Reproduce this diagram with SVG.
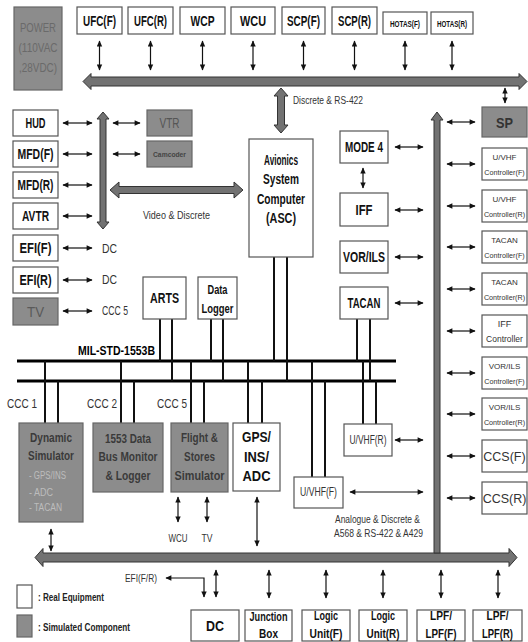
<svg xmlns="http://www.w3.org/2000/svg" width="528" height="642" viewBox="0 0 528 642">
<style>
text{font-family:"Liberation Sans",Arial,sans-serif}
.box{fill:#fff;stroke:#555;stroke-width:1.2}
.sim{fill:#8c8c8c;stroke:#666;stroke-width:1.2}
.b{font-weight:bold;fill:#111;text-anchor:middle}
.r{fill:#333;text-anchor:middle}
.l{fill:#333}
.c{stroke:#111;stroke-width:1.2;fill:none;marker-start:url(#ah);marker-end:url(#ah)}
.stub{stroke:#111;stroke-width:2}
.bus{stroke:#000;stroke-width:3.2}
.thick{fill:#727272;stroke:#333;stroke-width:1}
.st{fill:#3a3a3a;font-weight:bold;text-anchor:middle}
.rc1{fill:#333;text-anchor:middle;font-size:8px}
.rc2{fill:#333;text-anchor:middle;font-size:7.2px}
</style>
<defs>
<marker id="ah" viewBox="0 0 10 10" refX="9" refY="5" markerWidth="7" markerHeight="6" markerUnits="userSpaceOnUse" orient="auto-start-reverse"><path d="M0,0.5 L10,5 L0,9.5 z" fill="#111"/></marker>
</defs>

<g id="connectors">
<polygon class="thick" points="83,81.5 91,73.5 91,77 519,77 519,73.5 527,81.5 519,89.5 519,86 91,86 91,89.5"/>
<polygon class="thick" points="35,557.5 43,548.5 43,553 509,553 509,548.5 517,557.5 509,566.5 509,562 43,562 43,566.5"/>
<polygon class="thick" points="437,112 443,120 440,120 440,553 434,553 434,120 431,120"/>
<polygon class="thick" points="103,112 109,119 106,119 106,222 109,222 103,229 97,222 100,222 100,119 97,119"/>
<polygon class="thick" points="110,190 119,182 119,186.5 234,186.5 234,182 243,190 234,198 234,193.5 119,193.5 119,198"/>
<polygon class="thick" points="281,88 288,96 284.5,96 284.5,125 288,125 281,133 274,125 277.5,125 277.5,96 274,96"/>
<line class="bus" x1="17" y1="361" x2="396" y2="361"/>
<line class="bus" x1="17" y1="381" x2="396" y2="381"/>
<line class="stub" x1="160" y1="319" x2="160" y2="361"/>
<line class="stub" x1="172" y1="319" x2="172" y2="381"/>
<line class="stub" x1="211" y1="319" x2="211" y2="361"/>
<line class="stub" x1="223" y1="319" x2="223" y2="381"/>
<line class="stub" x1="274" y1="257" x2="274" y2="361"/>
<line class="stub" x1="287" y1="257" x2="287" y2="381"/>
<line class="stub" x1="357" y1="319" x2="357" y2="361"/>
<line class="stub" x1="370" y1="319" x2="370" y2="381"/>
<line class="stub" x1="45" y1="361" x2="45" y2="423"/>
<line class="stub" x1="58" y1="381" x2="58" y2="423"/>
<line class="stub" x1="121" y1="361" x2="121" y2="423"/>
<line class="stub" x1="134" y1="381" x2="134" y2="423"/>
<line class="stub" x1="191" y1="361" x2="191" y2="423"/>
<line class="stub" x1="204" y1="381" x2="204" y2="423"/>
<line class="stub" x1="248" y1="361" x2="248" y2="423"/>
<line class="stub" x1="262" y1="381" x2="262" y2="423"/>
<line class="stub" x1="312" y1="361" x2="312" y2="477"/>
<line class="stub" x1="325" y1="381" x2="325" y2="477"/>
<line class="stub" x1="363" y1="361" x2="363" y2="424"/>
<line class="stub" x1="376" y1="381" x2="376" y2="424"/>
<line class="c" x1="99.5" y1="41" x2="99.5" y2="70"/>
<line class="c" x1="150.5" y1="41" x2="150.5" y2="70"/>
<line class="c" x1="202.5" y1="41" x2="202.5" y2="70"/>
<line class="c" x1="253" y1="41" x2="253" y2="70"/>
<line class="c" x1="303.5" y1="41" x2="303.5" y2="70"/>
<line class="c" x1="354.5" y1="41" x2="354.5" y2="70"/>
<line class="c" x1="405" y1="41" x2="405" y2="70"/>
<line class="c" x1="452" y1="41" x2="452" y2="70"/>
<line class="c" x1="505" y1="88" x2="505" y2="103"/>
<line class="c" x1="63" y1="123" x2="92" y2="123"/>
<line class="c" x1="63" y1="154" x2="92" y2="154"/>
<line class="c" x1="63" y1="185" x2="92" y2="185"/>
<line class="c" x1="63" y1="216" x2="92" y2="216"/>
<line class="c" x1="63" y1="248" x2="92" y2="248"/>
<line class="c" x1="63" y1="280" x2="92" y2="280"/>
<line class="c" x1="63" y1="311" x2="92" y2="311"/>
<line class="c" x1="113" y1="123" x2="140" y2="123"/>
<line class="c" x1="113" y1="154" x2="140" y2="154"/>
<line class="c" x1="363" y1="168" x2="363" y2="188"/>
<line class="c" x1="395" y1="147" x2="423" y2="147"/>
<line class="c" x1="395" y1="210" x2="423" y2="210"/>
<line class="c" x1="395" y1="257" x2="423" y2="257"/>
<line class="c" x1="395" y1="303" x2="423" y2="303"/>
<line class="c" x1="395" y1="440" x2="423" y2="440"/>
<line class="c" x1="350" y1="492" x2="423" y2="492"/>
<line class="c" x1="447" y1="122" x2="475" y2="122"/>
<line class="c" x1="447" y1="164" x2="475" y2="164"/>
<line class="c" x1="447" y1="206" x2="475" y2="206"/>
<line class="c" x1="447" y1="247" x2="475" y2="247"/>
<line class="c" x1="447" y1="289" x2="475" y2="289"/>
<line class="c" x1="447" y1="331" x2="475" y2="331"/>
<line class="c" x1="447" y1="373" x2="475" y2="373"/>
<line class="c" x1="447" y1="414" x2="475" y2="414"/>
<line class="c" x1="447" y1="456" x2="475" y2="456"/>
<line class="c" x1="447" y1="498" x2="475" y2="498"/>
<line class="c" x1="178" y1="497" x2="178" y2="522"/>
<line class="c" x1="207" y1="497" x2="207" y2="522"/>
<line class="c" x1="257" y1="497" x2="257" y2="546"/>
<line class="c" x1="51" y1="529" x2="51" y2="551"/>
<path class="c" d="M166,578 H204 V597"/>
<line class="c" x1="216" y1="570" x2="216" y2="597"/>
<line class="c" x1="269" y1="570" x2="269" y2="598"/>
<line class="c" x1="326" y1="570" x2="326" y2="598"/>
<line class="c" x1="383" y1="570" x2="383" y2="598"/>
<line class="c" x1="441" y1="570" x2="441" y2="598"/>
<line class="c" x1="498" y1="570" x2="498" y2="598"/>
</g>

<g id="labels">
<text class="l" x="293" y="104" font-size="11" textLength="70" lengthAdjust="spacingAndGlyphs">Discrete &amp; RS-422</text>
<text class="l" x="143" y="219" font-size="11" textLength="67" lengthAdjust="spacingAndGlyphs">Video &amp; Discrete</text>
<text class="l" x="102" y="253" font-size="12" fill="#555" textLength="15" lengthAdjust="spacingAndGlyphs">DC</text>
<text class="l" x="102" y="284" font-size="12" fill="#555" textLength="15" lengthAdjust="spacingAndGlyphs">DC</text>
<text class="l" x="102" y="315" font-size="12" fill="#555" textLength="26" lengthAdjust="spacingAndGlyphs">CCC 5</text>
<text x="78" y="355" font-size="12" font-weight="bold" fill="#000" textLength="77" lengthAdjust="spacingAndGlyphs">MIL-STD-1553B</text>
<text class="l" x="7" y="408" font-size="13" fill="#222" textLength="30" lengthAdjust="spacingAndGlyphs">CCC 1</text>
<text class="l" x="87" y="408" font-size="13" fill="#222" textLength="30" lengthAdjust="spacingAndGlyphs">CCC 2</text>
<text class="l" x="157" y="408" font-size="13" fill="#222" textLength="30" lengthAdjust="spacingAndGlyphs">CCC 5</text>
<text class="r" x="178" y="542" font-size="11" textLength="19" lengthAdjust="spacingAndGlyphs">WCU</text>
<text class="r" x="207" y="542" font-size="11" textLength="11" lengthAdjust="spacingAndGlyphs">TV</text>
<text class="l" x="335" y="523" font-size="11" textLength="85" lengthAdjust="spacingAndGlyphs">Analogue &amp; Discrete &amp;</text>
<text class="l" x="334" y="537" font-size="11" textLength="89" lengthAdjust="spacingAndGlyphs">A568 &amp; RS-422 &amp; A429</text>
<text class="l" x="125" y="582" font-size="10" textLength="32" lengthAdjust="spacingAndGlyphs">EFI(F/R)</text>
</g>

<g id="power"><rect class="sim" x="14" y="7" width="48" height="83"/>
<text x="38" y="32" font-size="13" fill="#6a6a6a" text-anchor="middle" textLength="36" lengthAdjust="spacingAndGlyphs">POWER</text>
<text x="38" y="52" font-size="13" fill="#6a6a6a" text-anchor="middle" textLength="39" lengthAdjust="spacingAndGlyphs">(110VAC</text>
<text x="38" y="72" font-size="13" fill="#6a6a6a" text-anchor="middle" textLength="38" lengthAdjust="spacingAndGlyphs">,28VDC)</text></g>
<g id="ufcf"><rect class="box" x="77" y="7" width="45" height="27"/><text class="b" x="99.5" y="26" font-size="14" textLength="33" lengthAdjust="spacingAndGlyphs">UFC(F)</text></g>
<g id="ufcr"><rect class="box" x="128" y="7" width="45" height="27"/><text class="b" x="150.5" y="26" font-size="14" textLength="33" lengthAdjust="spacingAndGlyphs">UFC(R)</text></g>
<g id="wcp"><rect class="box" x="180" y="7" width="45" height="27"/><text class="b" x="202.5" y="26" font-size="14" textLength="24" lengthAdjust="spacingAndGlyphs">WCP</text></g>
<g id="wcu"><rect class="box" x="231" y="7" width="44" height="27"/><text class="b" x="253" y="26" font-size="14" textLength="26" lengthAdjust="spacingAndGlyphs">WCU</text></g>
<g id="scpf"><rect class="box" x="282" y="7" width="43" height="27"/><text class="b" x="303.5" y="26" font-size="14" textLength="33" lengthAdjust="spacingAndGlyphs">SCP(F)</text></g>
<g id="scpr"><rect class="box" x="332" y="7" width="45" height="27"/><text class="b" x="354.5" y="26" font-size="14" textLength="33" lengthAdjust="spacingAndGlyphs">SCP(R)</text></g>
<g id="hotasf"><rect class="box" x="383" y="12" width="44" height="22"/><text class="b" x="405" y="27" font-size="9" textLength="30" lengthAdjust="spacingAndGlyphs">HOTAS(F)</text></g>
<g id="hotasr"><rect class="box" x="431" y="12" width="42" height="22"/><text class="b" x="452" y="27" font-size="9" textLength="30" lengthAdjust="spacingAndGlyphs">HOTAS(R)</text></g>

<g id="hud"><rect class="box" x="13" y="110" width="45" height="26"/><text class="b" x="35.5" y="128" font-size="14" textLength="20" lengthAdjust="spacingAndGlyphs">HUD</text></g>
<g id="mfdf"><rect class="box" x="13" y="141" width="45" height="26"/><text class="b" x="35.5" y="159" font-size="14" textLength="36" lengthAdjust="spacingAndGlyphs">MFD(F)</text></g>
<g id="mfdr"><rect class="box" x="13" y="172" width="45" height="26"/><text class="b" x="35.5" y="190" font-size="14" textLength="36" lengthAdjust="spacingAndGlyphs">MFD(R)</text></g>
<g id="avtr"><rect class="box" x="13" y="203" width="45" height="26"/><text class="b" x="35.5" y="221" font-size="14" textLength="27" lengthAdjust="spacingAndGlyphs">AVTR</text></g>
<g id="efif"><rect class="box" x="13" y="235" width="45" height="26"/><text class="b" x="35.5" y="253" font-size="14" textLength="32" lengthAdjust="spacingAndGlyphs">EFI(F)</text></g>
<g id="efir"><rect class="box" x="13" y="267" width="45" height="26"/><text class="b" x="35.5" y="285" font-size="14" textLength="32" lengthAdjust="spacingAndGlyphs">EFI(R)</text></g>
<g id="tv"><rect class="sim" x="13" y="298" width="45" height="27"/><text x="35.5" y="317" font-size="14" fill="#5a5a5a" text-anchor="middle" textLength="17" lengthAdjust="spacingAndGlyphs">TV</text></g>
<g id="vtr"><rect class="sim" x="147" y="110" width="45" height="26"/><text x="169.5" y="128" font-size="14" fill="#555" text-anchor="middle" textLength="20" lengthAdjust="spacingAndGlyphs">VTR</text></g>
<g id="camcoder"><rect class="sim" x="147" y="141" width="45" height="26"/><text x="169.5" y="157" font-size="8" font-weight="bold" fill="#444" text-anchor="middle" textLength="33" lengthAdjust="spacingAndGlyphs">Camcoder</text></g>

<g id="asc"><rect class="box" x="249" y="139" width="64" height="118"/>
<text class="b" x="281" y="165" font-size="14" textLength="34" lengthAdjust="spacingAndGlyphs">Avionics</text>
<text class="b" x="281" y="184" font-size="14" textLength="36" lengthAdjust="spacingAndGlyphs">System</text>
<text class="b" x="281" y="204" font-size="14" textLength="48" lengthAdjust="spacingAndGlyphs">Computer</text>
<text class="b" x="281" y="223" font-size="14" textLength="30" lengthAdjust="spacingAndGlyphs">(ASC)</text></g>
<g id="mode4"><rect class="box" x="340" y="131" width="48" height="32"/><text class="b" x="364" y="152" font-size="14" textLength="38" lengthAdjust="spacingAndGlyphs">MODE 4</text></g>
<g id="iff"><rect class="box" x="340" y="193" width="48" height="33"/><text class="b" x="364" y="215" font-size="15" textLength="17" lengthAdjust="spacingAndGlyphs">IFF</text></g>
<g id="vorils"><rect class="box" x="340" y="241" width="48" height="32"/><text class="b" x="364" y="262" font-size="15" textLength="42" lengthAdjust="spacingAndGlyphs">VOR/ILS</text></g>
<g id="tacan"><rect class="box" x="340" y="287" width="48" height="32"/><text class="b" x="364" y="308" font-size="14" textLength="33" lengthAdjust="spacingAndGlyphs">TACAN</text></g>
<g id="arts"><rect class="box" x="143" y="277" width="43" height="42"/><text class="b" x="164.5" y="303" font-size="14" textLength="29" lengthAdjust="spacingAndGlyphs">ARTS</text></g>
<g id="datalogger"><rect class="box" x="198" y="277" width="39" height="42"/>
<text class="b" x="217.5" y="294" font-size="13" textLength="20" lengthAdjust="spacingAndGlyphs">Data</text>
<text class="b" x="217.5" y="313" font-size="13" textLength="32" lengthAdjust="spacingAndGlyphs">Logger</text></g>

<g id="sp"><rect class="sim" x="482" y="107" width="45" height="30"/><text x="504.5" y="128" font-size="15" font-weight="bold" fill="#333" text-anchor="middle" textLength="17" lengthAdjust="spacingAndGlyphs">SP</text></g>
<g id="uvhfcf"><rect class="box" x="482" y="148" width="45" height="32"/><text class="rc1" x="504.5" y="160">U/VHF</text><text class="rc2" x="504.5" y="175">Controller(F)</text></g>
<g id="uvhfcr"><rect class="box" x="482" y="190" width="45" height="32"/><text class="rc1" x="504.5" y="202">U/VHF</text><text class="rc2" x="504.5" y="217">Controller(R)</text></g>
<g id="tacancf"><rect class="box" x="482" y="231" width="45" height="32"/><text class="rc1" x="504.5" y="243">TACAN</text><text class="rc2" x="504.5" y="258">Controller(F)</text></g>
<g id="tacancr"><rect class="box" x="482" y="273" width="45" height="32"/><text class="rc1" x="504.5" y="285">TACAN</text><text class="rc2" x="504.5" y="300">Controller(R)</text></g>
<g id="iffc"><rect class="box" x="482" y="315" width="45" height="32"/><text class="r" x="504.5" y="327" font-size="9">IFF</text><text class="r" x="504.5" y="342" font-size="8.5">Controller</text></g>
<g id="vorcf"><rect class="box" x="482" y="357" width="45" height="32"/><text class="rc1" x="504.5" y="369">VOR/ILS</text><text class="rc2" x="504.5" y="384">Controller(F)</text></g>
<g id="vorcr"><rect class="box" x="482" y="398" width="45" height="32"/><text class="rc1" x="504.5" y="410">VOR/ILS</text><text class="rc2" x="504.5" y="425">Controller(R)</text></g>
<g id="ccsf"><rect class="box" x="482" y="440" width="45" height="32"/><text class="r" x="504.5" y="461" font-size="12.5" fill="#111">CCS(F)</text></g>
<g id="ccsr"><rect class="box" x="482" y="482" width="45" height="32"/><text class="r" x="504.5" y="503" font-size="12.5" fill="#111">CCS(R)</text></g>

<g id="dynsim"><rect class="sim" x="19" y="423" width="64" height="99"/>
<text class="st" x="51" y="442" font-size="13" textLength="42" lengthAdjust="spacingAndGlyphs">Dynamic</text>
<text class="st" x="51" y="460" font-size="13" textLength="46" lengthAdjust="spacingAndGlyphs">Simulator</text>
<text x="29" y="479" font-size="10" fill="#bdbdbd" textLength="37" lengthAdjust="spacingAndGlyphs">- GPS/INS</text>
<text x="29" y="496" font-size="10" fill="#bdbdbd" textLength="24" lengthAdjust="spacingAndGlyphs">- ADC</text>
<text x="29" y="511" font-size="10" fill="#bdbdbd" textLength="33" lengthAdjust="spacingAndGlyphs">- TACAN</text></g>
<g id="busmon"><rect class="sim" x="93" y="423" width="70" height="69"/>
<text class="st" x="128" y="443" font-size="13" textLength="46" lengthAdjust="spacingAndGlyphs">1553 Data</text>
<text class="st" x="128" y="461" font-size="13" textLength="59" lengthAdjust="spacingAndGlyphs">Bus Monitor</text>
<text class="st" x="128" y="480" font-size="13" textLength="45" lengthAdjust="spacingAndGlyphs">&amp; Logger</text></g>
<g id="flightsim"><rect class="sim" x="171" y="423" width="57" height="69"/>
<text class="st" x="199.5" y="442" font-size="13" textLength="37" lengthAdjust="spacingAndGlyphs">Flight &amp;</text>
<text class="st" x="199.5" y="461" font-size="13" textLength="31" lengthAdjust="spacingAndGlyphs">Stores</text>
<text class="st" x="199.5" y="480" font-size="13" textLength="50" lengthAdjust="spacingAndGlyphs">Simulator</text></g>
<g id="gps"><rect class="box" x="233" y="423" width="47" height="68"/>
<text class="b" x="256.5" y="442" font-size="14" textLength="29" lengthAdjust="spacingAndGlyphs">GPS/</text>
<text class="b" x="256.5" y="462" font-size="14" textLength="25" lengthAdjust="spacingAndGlyphs">INS/</text>
<text class="b" x="256.5" y="481" font-size="14" textLength="28" lengthAdjust="spacingAndGlyphs">ADC</text></g>
<g id="uvhff"><rect class="box" x="294" y="477" width="49" height="31"/><text class="r" x="318.5" y="496" font-size="12" fill="#444" textLength="37" lengthAdjust="spacingAndGlyphs">U/VHF(F)</text></g>
<g id="uvhfr"><rect class="box" x="344" y="424" width="48" height="32"/><text class="r" x="368" y="444" font-size="12" fill="#444" textLength="37" lengthAdjust="spacingAndGlyphs">U/VHF(R)</text></g>

<g id="dc"><rect class="box" x="191" y="610" width="48" height="31"/><text class="b" x="215" y="631" font-size="14" textLength="18" lengthAdjust="spacingAndGlyphs">DC</text></g>
<g id="junction"><rect class="box" x="245" y="610" width="47" height="31"/><text class="b" x="268.5" y="621" font-size="12" textLength="38" lengthAdjust="spacingAndGlyphs">Junction</text><text class="b" x="268.5" y="638" font-size="12" textLength="19" lengthAdjust="spacingAndGlyphs">Box</text></g>
<g id="logicf"><rect class="box" x="302" y="610" width="48" height="31"/><text class="b" x="326" y="620" font-size="12" textLength="24" lengthAdjust="spacingAndGlyphs">Logic</text><text class="b" x="326" y="638" font-size="12" textLength="33" lengthAdjust="spacingAndGlyphs">Unit(F)</text></g>
<g id="logicr"><rect class="box" x="359" y="610" width="48" height="31"/><text class="b" x="383" y="620" font-size="12" textLength="24" lengthAdjust="spacingAndGlyphs">Logic</text><text class="b" x="383" y="638" font-size="12" textLength="33" lengthAdjust="spacingAndGlyphs">Unit(R)</text></g>
<g id="lpff"><rect class="box" x="417" y="610" width="48" height="31"/><text class="b" x="441" y="620" font-size="12" textLength="22" lengthAdjust="spacingAndGlyphs">LPF/</text><text class="b" x="441" y="638" font-size="12" textLength="31" lengthAdjust="spacingAndGlyphs">LPF(F)</text></g>
<g id="lpfr"><rect class="box" x="473" y="610" width="49" height="31"/><text class="b" x="497.5" y="620" font-size="12" textLength="22" lengthAdjust="spacingAndGlyphs">LPF/</text><text class="b" x="497.5" y="638" font-size="12" textLength="31" lengthAdjust="spacingAndGlyphs">LPF(R)</text></g>

<g id="legend">
<rect class="box" x="17" y="585" width="15" height="23"/>
<text x="38" y="601" font-size="11" font-weight="bold" fill="#222" textLength="66" lengthAdjust="spacingAndGlyphs">: Real Equipment</text>
<rect class="sim" x="17" y="615" width="15" height="22"/>
<text x="38" y="631" font-size="11" font-weight="bold" fill="#222" textLength="92" lengthAdjust="spacingAndGlyphs">: Simulated Component</text>
</g>
</svg>
